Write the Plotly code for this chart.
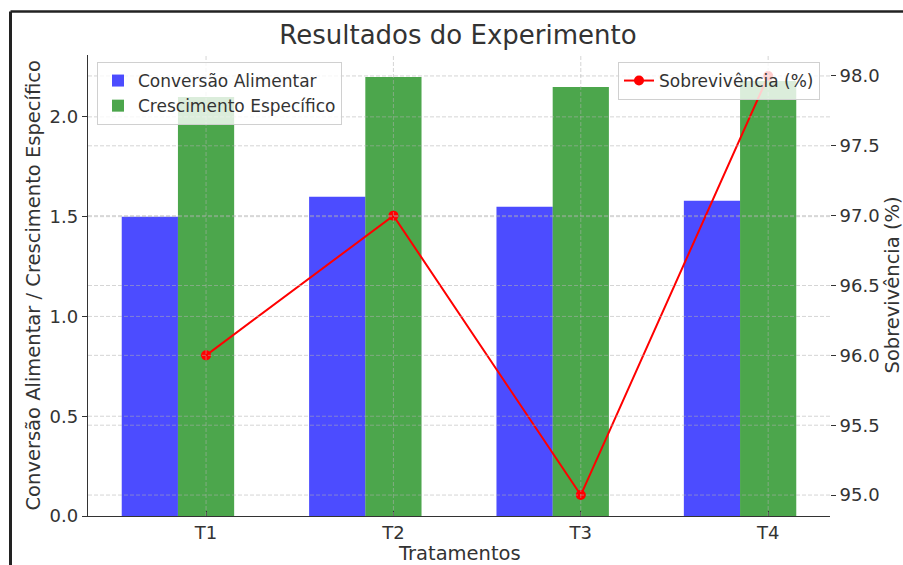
import plotly.graph_objects as go

categories = ["T1", "T2", "T3", "T4"]
conversao = [1.50, 1.60, 1.55, 1.58]
crescimento = [2.10, 2.20, 2.15, 2.18]
sobrevivencia = [96.0, 97.0, 95.0, 98.0]
left_ticks = [0.0, 0.5, 1.0, 1.5, 2.0]
right_ticks = [95.0, 95.5, 96.0, 96.5, 97.0, 97.5, 98.0]

W, H = 903, 565
L, R, T, B = 88, 830, 55, 516
PW, PH = R - L, B - T


def px_x(p):
    return (p - L) / PW


def px_y(p):
    return (B - p) / PH


FONT = "DejaVu Sans"
TXT = "#333333"
GRID = "rgba(176,176,176,0.6)"

fig = go.Figure()
fig.add_trace(go.Bar(
    x=categories, y=conversao, name="Conversão Alimentar",
    marker=dict(color="rgba(0,0,255,0.7)", line=dict(width=0)),
    width=0.3, offset=-0.45, legend="legend"))
fig.add_trace(go.Bar(
    x=categories, y=crescimento, name="Crescimento Específico",
    marker=dict(color="rgba(0,128,0,0.7)", line=dict(width=0)),
    width=0.3, offset=-0.15, legend="legend"))
fig.add_trace(go.Scatter(
    x=categories, y=sobrevivencia, yaxis="y2", mode="lines+markers",
    name="Sobrevivência (%)", line=dict(color="red", width=2),
    marker=dict(color="red", size=10), legend="legend2"))

shapes = []
for v in left_ticks[1:]:
    shapes.append(dict(type="line", xref="paper", x0=0, x1=1, yref="y", y0=v, y1=v,
                       line=dict(color=GRID, width=0.9, dash="4px,2px"), layer="above"))
for v in right_ticks:
    shapes.append(dict(type="line", xref="paper", x0=0, x1=1, yref="y2", y0=v, y1=v,
                       line=dict(color=GRID, width=0.9, dash="4px,2px"), layer="above"))
for i in range(len(categories)):
    shapes.append(dict(type="line", xref="x", x0=i, x1=i, yref="paper", y0=0, y1=1,
                       line=dict(color=GRID, width=0.9, dash="4px,2px"), layer="above"))
# outer frame (top and left)
shapes.append(dict(type="line", xref="paper", yref="paper",
                   x0=px_x(10.5), x1=px_x(903), y0=px_y(11.5), y1=px_y(11.5),
                   line=dict(color="#222222", width=2.5), layer="above"))
shapes.append(dict(type="line", xref="paper", yref="paper",
                   x0=px_x(10.5), x1=px_x(10.5), y0=px_y(11.5), y1=px_y(565),
                   line=dict(color="#222222", width=3), layer="above"))

annotations = [
    dict(text="Tratamentos", xref="paper", yref="paper", x=0.5, y=px_y(553),
         showarrow=False, xanchor="center", yanchor="middle",
         font=dict(family=FONT, size=19.5, color=TXT)),
    dict(text="Conversão Alimentar / Crescimento Específico", xref="paper", yref="paper",
         x=px_x(33), y=0.5, textangle=-90, showarrow=False,
         xanchor="center", yanchor="middle",
         font=dict(family=FONT, size=19.5, color=TXT)),
    dict(text="Sobrevivência (%)", xref="paper", yref="paper",
         x=px_x(892), y=0.5, textangle=-90, showarrow=False,
         xanchor="center", yanchor="middle",
         font=dict(family=FONT, size=19.5, color=TXT)),
]

fig.update_layout(
    width=W, height=H,
    margin=dict(l=L, r=W - R, t=T, b=H - B, pad=0),
    paper_bgcolor="white", plot_bgcolor="white",
    barmode="overlay",
    font=dict(family=FONT, color=TXT),
    title=dict(text="Resultados do Experimento", x=px_x(458), xref="paper",
               y=1 - 35 / H, yref="container", xanchor="center", yanchor="middle",
               font=dict(family=FONT, size=26, color=TXT)),
    xaxis=dict(range=[-0.63, 3.33], showgrid=False, zeroline=False,
               showline=True, linecolor="#333333", linewidth=1.3,
               ticks="inside", ticklen=5, tickcolor="#333333",
               tickfont=dict(family=FONT, size=18, color=TXT)),
    yaxis=dict(range=[0, 2.31], tickvals=left_ticks, tickformat=".1f",
               showgrid=False, zeroline=False,
               showline=True, linecolor="#333333", linewidth=1.3,
               ticks="outside", ticklen=5, tickcolor="#333333",
               tickfont=dict(family=FONT, size=18, color=TXT)),
    yaxis2=dict(range=[94.85, 98.15], tickvals=right_ticks, tickformat=".1f",
                overlaying="y", side="right", showgrid=False, zeroline=False,
                showline=False, ticks="outside", ticklen=5, tickcolor="#333333",
                tickfont=dict(family=FONT, size=18, color=TXT)),
    legend=dict(x=px_x(97), y=px_y(62), xanchor="left", yanchor="top",
                bgcolor="rgba(255,255,255,0.8)", bordercolor="#d0d0d0", borderwidth=1,
                font=dict(family=FONT, size=17, color=TXT), traceorder="normal"),
    legend2=dict(x=px_x(820), y=px_y(62), xanchor="right", yanchor="top",
                 bgcolor="rgba(255,255,255,0.8)", bordercolor="#d0d0d0", borderwidth=1,
                 font=dict(family=FONT, size=17, color=TXT)),
    shapes=shapes,
    annotations=annotations,
)

fig.write_html("out.html", config={"displayModeBar": False},
               post_script="document.body.style.margin='0';document.body.style.padding='0';")
